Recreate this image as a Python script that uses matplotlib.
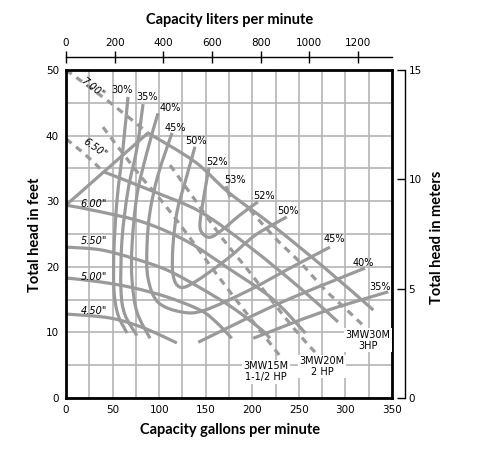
import matplotlib.pyplot as plt
import numpy as np
from matplotlib.path import Path
from matplotlib.patches import PathPatch

# ---- data (gpm, feet) ----
# impeller head curves
h700_dash_q = [0, 44, 88]
h700_dash_h = [50, 45.4, 40.4]
h700_q = [88, 138.5, 174, 221, 278, 330]
h700_h = [40.4, 36.0, 31.4, 26.4, 19.8, 13.4]
h650_dash_q = [0, 20, 40]
h650_dash_h = [39.5, 37.2, 34.5]
h650_q = [40, 90, 144, 197.5, 251, 292]
h650_h = [34.5, 31.7, 28.4, 23.0, 16.8, 11.6]
h600_q = [0, 36.5, 85, 131, 174, 221, 257]
h600_h = [29.4, 28.4, 26.7, 23.8, 19.8, 15.2, 9.9]
h550_q = [0, 36.5, 72, 108.5, 144, 179.5, 210, 219]
h550_h = [23.0, 22.6, 21.3, 19.5, 16.8, 13.7, 10.4, 9.1]
h500_q = [0, 36.5, 72, 108.5, 144, 161, 178]
h500_h = [18.3, 17.7, 16.8, 15.4, 13.4, 11.6, 9.1]
h450_q = [0, 47, 83, 119]
h450_h = [12.8, 12.2, 10.7, 8.4]
edge_q = [0, 88]
edge_h = [29.4, 40.4]

# efficiency contours
e30_q = [66.6, 61.2, 54.8, 51.5, 51.5, 55.8, 65.5]
e30_h = [45.9, 38.1, 30.2, 22.6, 16.5, 12.7, 9.9]
e35_q = [82.7, 76.2, 66.6, 60.1, 59, 63.3, 76.2]
e35_h = [44.8, 38.1, 31.7, 24.1, 16.5, 12.7, 9.5]
e35r_q = [201, 273, 346]
e35r_h = [9.1, 13.0, 16.2]
e40_q = [98.8, 87, 76.2, 70.9, 70.9, 76.2, 90.2]
e40_h = [43.4, 37.5, 30.9, 23.3, 18, 13.1, 9.1]
e40r_q = [142, 230, 321]
e40r_h = [8.5, 14.5, 19.8]
e45_q = [113.8, 98.8, 90.2, 87, 88, 98.8, 124.5, 149.2, 197.5, 240.5, 283.4]
e45_h = [40.4, 34, 28.4, 23.3, 18.3, 14.6, 13.1, 13.4, 16.5, 19.8, 23]
e50_q = [138.5, 127.8, 119.2, 114.9, 114.9, 122.4, 138.5, 174, 203, 237]
e50_h = [38.3, 32.9, 28.4, 23.3, 18.8, 16.9, 17.7, 21.3, 24.8, 27.6]
e52_q = [153.5, 149.2, 143.9, 146, 154.6, 167.5, 186.8, 206]
e52_h = [35.1, 31.7, 26.8, 25.2, 24.5, 25.6, 27.9, 29.9]
e53_q = [171.8, 176]
e53_h = [32.3, 30.6]

# horsepower limit lines
hp15_q = [39.7, 76.2, 106.3, 133.1, 160, 186.8, 210.4, 229.8]
hp15_h = [41.3, 34.5, 29.4, 24.4, 19.2, 14.2, 9.9, 6.4]
hp20_q = [111.7, 138.5, 167.5, 195.4, 219, 245.9, 267.3]
hp20_h = [35.5, 30.2, 24.4, 19.5, 15.2, 10.4, 7.0]
hp30_q = [197.5, 224.4, 251.2, 278, 299.5, 321]
hp30_h = [28.7, 24.4, 20.7, 16.5, 13.7, 10.8]

dia_labels = ['7.00"', '6.50"', '6.00"', '5.50"', '5.00"', '4.50"']
dia_pos = [(27.9, 47.3, -38), (31.1, 38.1, -35), (30, 29.6, 0), (30, 23.9, 0),
           (30, 18.5, 0), (30, 13.3, 0)]
eff_labels = ['30%', '35%', '40%', '45%', '50%', '52%', '53%',
              '52%', '50%', '45%', '40%', '35%']
eff_pos = [(60.1, 46.9), (87, 45.9), (111.7, 44.2), (117, 41.2), (139.6, 39.2),
           (162.1, 36.0), (181.5, 33.2), (213, 30.8), (238, 28.5), (287.7, 24.3),
           (319, 20.6), (337, 16.9)]
model_labels = ['3MW15M\n1-1/2 HP', '3MW20M\n2 HP', '3MW30M\n3HP']
model_pos = [(214.7, 4.0), (274.9, 4.8), (324.2, 8.8)]

gpm_ticks = np.arange(0, 351, 50)
lpm_ticks = np.arange(0, 1201, 200)
m_ticks = [0, 5, 10, 15]

CURVE = '#9a9a9a'
GRID = '#b5b5b5'


def curve(ax, xs, ys, dashed=False):
    pts = np.column_stack([xs, ys]).astype(float)
    n = len(pts)
    verts = [pts[0]]
    codes = [Path.MOVETO]
    for i in range(n - 1):
        p0 = pts[i - 1] if i > 0 else pts[i]
        p1, p2 = pts[i], pts[i + 1]
        p3 = pts[i + 2] if i + 2 < n else pts[i + 1]
        verts += [p1 + (p2 - p0) / 6, p2 - (p3 - p1) / 6, p2]
        codes += [Path.CURVE4] * 3
    ls = (0, (2.2, 1.8)) if dashed else '-'
    ax.add_patch(PathPatch(Path(verts, codes), fill=False, edgecolor=CURVE,
                           lw=2.3, linestyle=ls, capstyle='butt', zorder=3))


fig = plt.figure(figsize=(4.87, 4.72), dpi=100)
ax = fig.add_axes([66 / 487, 74 / 472, 326 / 487, 328 / 472])
ax.set_xlim(0, 350)
ax.set_ylim(0, 50)
ax.set_xticks(gpm_ticks)
ax.set_xticks(np.arange(0, 351, 25), minor=True)
ax.set_yticks(np.arange(0, 51, 10))
ax.set_yticks(np.arange(0, 51, 5), minor=True)
ax.grid(which='both', color=GRID, lw=1.2, zorder=1)
ax.tick_params(which='both', length=0, labelsize=7.5, pad=5)
for s in ax.spines.values():
    s.set_linewidth(2)
    s.set_zorder(5)

# curves
for q, h in [(h700_q, h700_h), (h650_q, h650_h), (h600_q, h600_h), (h550_q, h550_h),
             (h500_q, h500_h), (h450_q, h450_h), (edge_q, edge_h)]:
    curve(ax, q, h)
for q, h in [(h700_dash_q, h700_dash_h), (h650_dash_q, h650_dash_h)]:
    curve(ax, q, h, dashed=True)
for q, h in [(e30_q, e30_h), (e35_q, e35_h), (e35r_q, e35r_h), (e40_q, e40_h),
             (e40r_q, e40r_h), (e45_q, e45_h), (e50_q, e50_h), (e52_q, e52_h),
             (e53_q, e53_h)]:
    curve(ax, q, h)
for q, h in [(hp15_q, hp15_h), (hp20_q, hp20_h), (hp30_q, hp30_h)]:
    curve(ax, q, h, dashed=True)

for lab, (x, y, r) in zip(dia_labels, dia_pos):
    ax.text(x, y, lab, fontsize=7, style='italic', ha='center', va='center',
            rotation=r, rotation_mode='anchor', zorder=6)
for lab, (x, y) in zip(eff_labels, eff_pos):
    ax.text(x, y, lab, fontsize=7, ha='center', va='center', zorder=6)
for lab, (x, y) in zip(model_labels, model_pos):
    ax.text(x, y, lab, fontsize=7, ha='center', va='center', linespacing=1.1,
            zorder=6, bbox=dict(boxstyle='square,pad=0.15', fc='white', ec='none'))

# top axis: liters per minute
top = ax.twiny()
top.set_xlim(0, 1340)
top.set_xticks(lpm_ticks)
for k in ['bottom', 'left', 'right']:
    top.spines[k].set_visible(False)
top.spines['top'].set_position(('outward', 9.5))
top.spines['top'].set_linewidth(1)
top.tick_params(axis='x', direction='inout', length=8, width=1, labelsize=7.5, pad=2)

# right axis: meters
right = ax.twinx()
right.set_ylim(0, 15)
right.set_yticks(m_ticks)
for k in ['bottom', 'left', 'top']:
    right.spines[k].set_visible(False)
right.spines['right'].set_position(('outward', 9))
right.spines['right'].set_linewidth(1)
right.tick_params(axis='y', direction='in', length=6, width=1, labelsize=7.5, pad=3)

tf = dict(fontsize=10.5, fontweight='bold', family='Lato', ha='center', va='center')
fig.text(230 / 487, 1 - 20 / 472, 'Capacity liters per minute', **tf)
fig.text(230 / 487, 1 - 430 / 472, 'Capacity gallons per minute', **tf)
fig.text(35 / 487, 1 - 235 / 472, 'Total head in feet', rotation=90, **tf)
fig.text(437 / 487, 1 - 237 / 472, 'Total head in meters', rotation=90, **tf)

fig.savefig('out.png', dpi=100)
